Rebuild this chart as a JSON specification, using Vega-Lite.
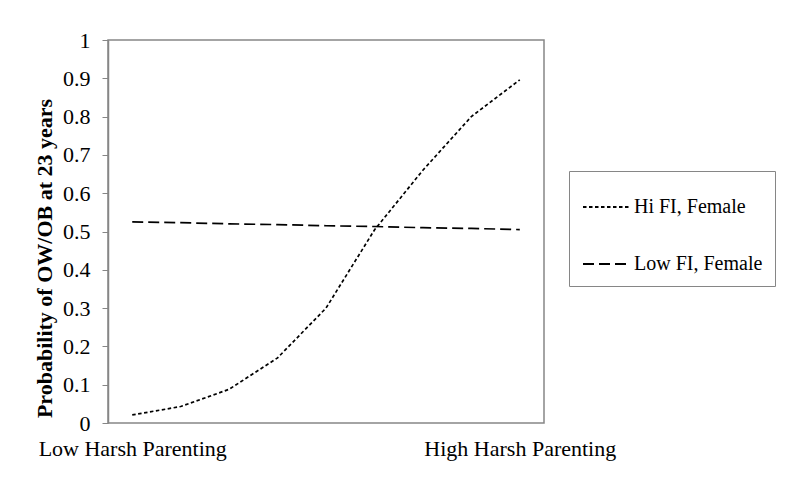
{
  "$schema": "https://vega.github.io/schema/vega-lite/v6.json",
  "width": 436,
  "height": 383,
  "autosize": "none",
  "padding": {"left": 108, "top": 40, "right": 256, "bottom": 67},
  "background": "white",
  "config": {
    "view": {"stroke": "#868686", "strokeWidth": 1.5},
    "font": "Liberation Serif"
  },
  "data": {
    "values": [
      {"step": 1, "series": "Hi FI, Female", "p": 0.021},
      {"step": 2, "series": "Hi FI, Female", "p": 0.043},
      {"step": 3, "series": "Hi FI, Female", "p": 0.088},
      {"step": 4, "series": "Hi FI, Female", "p": 0.17},
      {"step": 5, "series": "Hi FI, Female", "p": 0.3},
      {"step": 6, "series": "Hi FI, Female", "p": 0.504},
      {"step": 7, "series": "Hi FI, Female", "p": 0.66},
      {"step": 8, "series": "Hi FI, Female", "p": 0.80},
      {"step": 9, "series": "Hi FI, Female", "p": 0.896},
      {"step": 1, "series": "Low FI, Female", "p": 0.525},
      {"step": 2, "series": "Low FI, Female", "p": 0.523},
      {"step": 3, "series": "Low FI, Female", "p": 0.520},
      {"step": 4, "series": "Low FI, Female", "p": 0.518},
      {"step": 5, "series": "Low FI, Female", "p": 0.515},
      {"step": 6, "series": "Low FI, Female", "p": 0.513},
      {"step": 7, "series": "Low FI, Female", "p": 0.510},
      {"step": 8, "series": "Low FI, Female", "p": 0.508},
      {"step": 9, "series": "Low FI, Female", "p": 0.505}
    ]
  },
  "mark": {"type": "line", "color": "black", "strokeWidth": 1.7},
  "encoding": {
    "x": {
      "field": "step",
      "type": "ordinal",
      "scale": {"padding": 0.5},
      "axis": {
        "title": null,
        "labelExpr": "datum.value == 1 ? 'Low Harsh Parenting' : (datum.value == 9 ? 'High Harsh Parenting' : '')",
        "ticks": false,
        "domain": false,
        "labelAngle": 0,
        "labelFontSize": 22,
        "labelColor": "black",
        "labelPadding": 15,
        "labelOverlap": false,
        "labelLimit": 400
      }
    },
    "y": {
      "field": "p",
      "type": "quantitative",
      "scale": {"domain": [0, 1], "nice": false, "zero": true},
      "axis": {
        "values": [0, 0.1, 0.2, 0.3, 0.4, 0.5, 0.6, 0.7, 0.8, 0.9, 1],
        "format": "~g",
        "grid": false,
        "tickSize": 6,
        "labelPadding": 12,
        "labelFontSize": 22,
        "labelColor": "black",
        "domainColor": "#868686",
        "tickColor": "#868686",
        "domainWidth": 1.5,
        "title": "Probability of OW/OB at 23 years",
        "titleFontSize": 22,
        "titleFontWeight": "bold",
        "titleColor": "black",
        "titleX": -64,
        "titleY": 218,
        "titleBaseline": "middle"
      }
    },
    "strokeDash": {
      "field": "series",
      "type": "nominal",
      "scale": {
        "domain": ["Hi FI, Female", "Low FI, Female"],
        "range": [[3.5, 2.5], [11, 5]]
      },
      "legend": {
        "title": null,
        "orient": "none",
        "legendX": 461,
        "legendY": 131,
        "strokeColor": "#868686",
        "fillColor": "white",
        "padding": 12,
        "symbolOffset": 1,
        "symbolType": "stroke",
        "symbolSize": 2116,
        "symbolStrokeWidth": 2,
        "symbolStrokeColor": "black",
        "labelFontSize": 20,
        "labelColor": "black",
        "labelFont": "Liberation Serif",
        "rowPadding": 23,
        "labelOffset": 4
      }
    }
  }
}
